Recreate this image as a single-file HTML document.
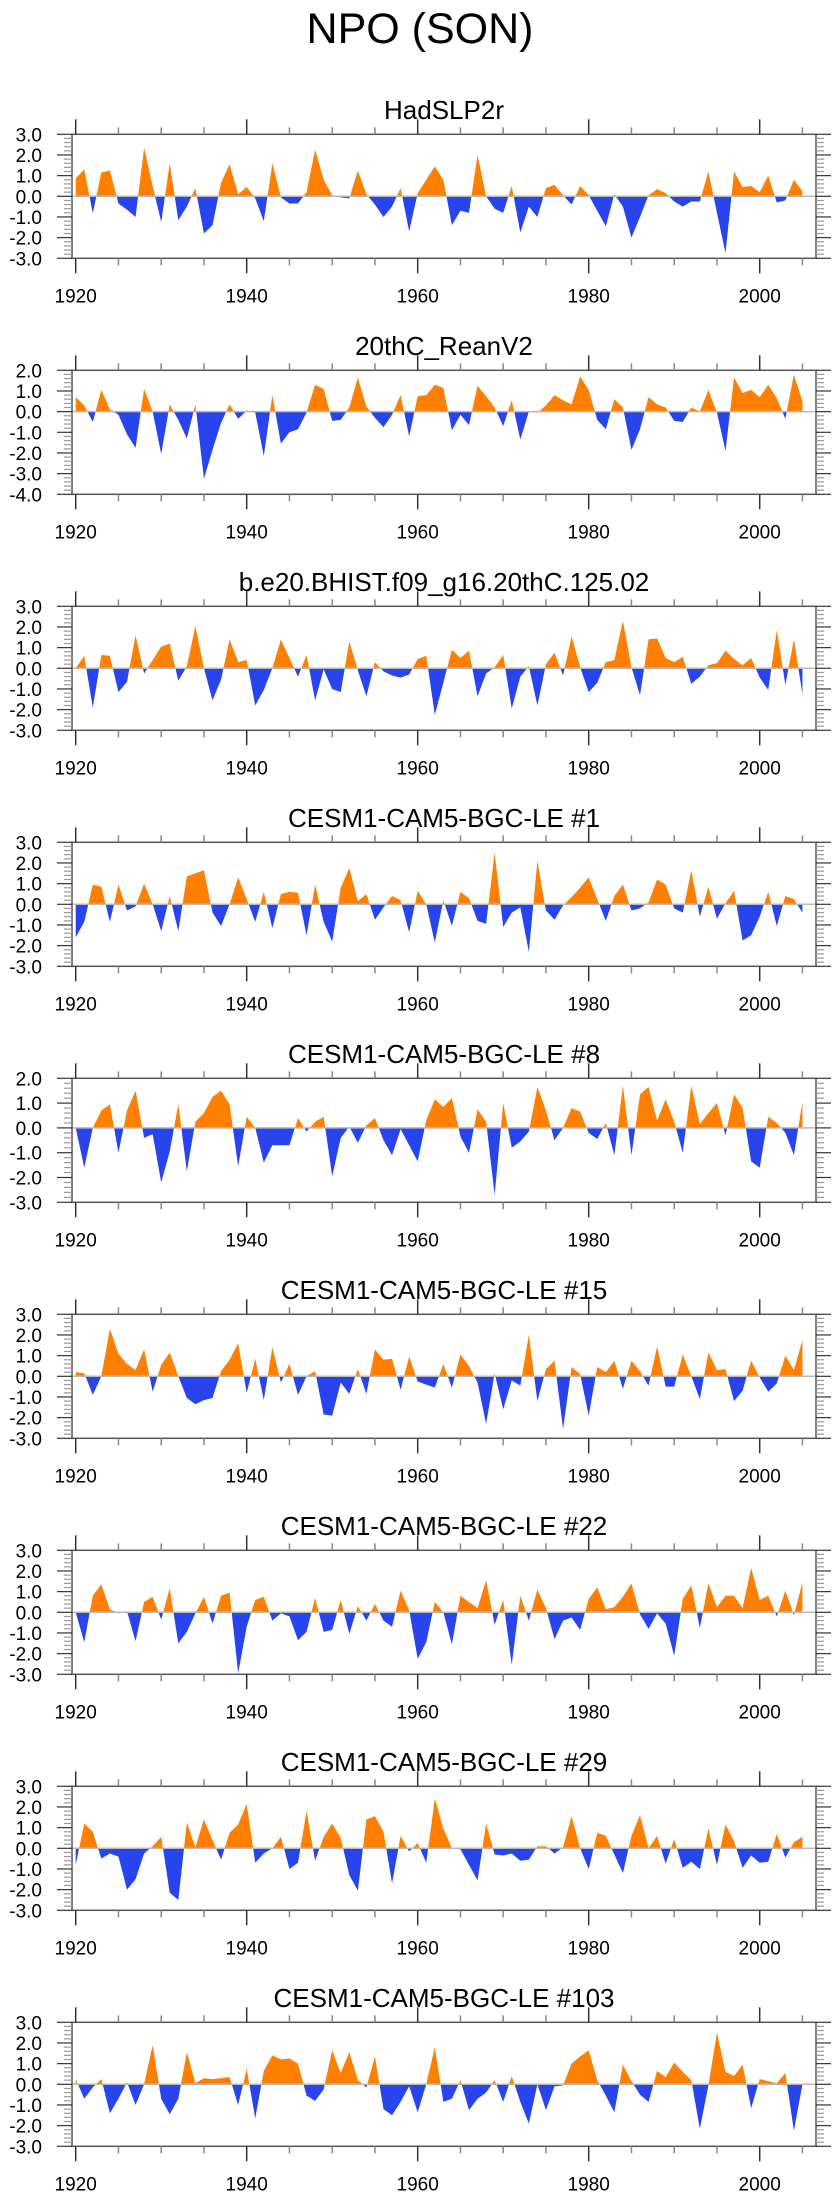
<!DOCTYPE html>
<html><head><meta charset="utf-8"><style>
html,body{margin:0;padding:0;background:#fff;}
svg{display:block;font-family:"Liberation Sans",Arial,sans-serif;}
</style></head><body>
<svg id="chart" width="840" height="2200" viewBox="0 0 840 2200" xmlns="http://www.w3.org/2000/svg">
<text x="420" y="43" text-anchor="middle" font-size="43" fill="#000">NPO (SON)</text>
</svg>
<script>
const years = [];
for (let y = 1920; y <= 2005; y++) years.push(y);
const panelTitles = ["HadSLP2r","20thC_ReanV2","b.e20.BHIST.f09_g16.20thC.125.02","CESM1-CAM5-BGC-LE #1","CESM1-CAM5-BGC-LE #8","CESM1-CAM5-BGC-LE #15","CESM1-CAM5-BGC-LE #22","CESM1-CAM5-BGC-LE #29","CESM1-CAM5-BGC-LE #103"];
const yMaxs = [3,2,3,3,2,3,3,3,3];
const yMins = [-3,-4,-3,-3,-3,-3,-3,-3,-3];
const xTickLabels = [1920,1940,1960,1980,2000];
const hadslp2r = [0.87,1.3,-0.82,1.15,1.25,-0.35,-0.65,-1.0,2.35,0.5,-1.25,1.6,-1.15,-0.5,0.4,-1.8,-1.4,0.65,1.55,0.1,0.45,-0.1,-1.2,1.6,-0.05,-0.35,-0.35,0.2,2.25,0.8,0.05,-0.05,-0.1,1.25,0.1,-0.4,-1.0,-0.5,0.4,-1.7,0.15,0.8,1.45,0.8,-1.4,-0.7,-0.8,2.0,0,-0.6,-0.8,0.5,-1.75,-0.5,-1.0,0.4,0.55,0.05,-0.4,0.5,0.05,-0.7,-1.45,0.1,-0.5,-2.0,-1.0,0.05,0.35,0.15,-0.25,-0.5,-0.25,-0.25,1.2,-0.8,-2.75,1.2,0.45,0.5,0.2,1.0,-0.3,-0.2,0.8,0.25];
const reanV2 = [0.7,0.3,-0.5,1.05,0.1,-0.15,-1.1,-1.75,1.1,0,-2.05,0.35,-0.4,-1.3,0.35,-3.25,-1.85,-0.55,0.35,-0.35,0.05,-0.05,-2.15,0.8,-1.55,-1.0,-0.85,-0.05,1.3,1.1,-0.45,-0.4,0.2,1.65,0.25,-0.3,-0.75,-0.15,0.8,-1.2,0.75,0.8,1.3,1.15,-0.9,-0.15,-0.65,1.25,0.75,0.2,-0.7,0.55,-1.35,0,-0.05,0.3,0.8,0.55,0.35,1.7,1.05,-0.4,-0.85,0.6,0.2,-1.85,-0.85,0.7,0.35,0.2,-0.45,-0.5,0.2,0,1.05,-0.05,-1.9,1.65,0.9,1.05,0.7,1.3,0.65,-0.35,1.8,0.5];
const bhist = [0,0.6,-1.9,0.65,0.6,-1.15,-0.65,1.6,-0.25,0.4,1.05,1.2,-0.6,0.1,2.05,0,-1.55,-0.55,1.4,0.3,0.4,-1.8,-1.05,0,1.4,0.5,-0.4,0.65,-1.55,-0.05,-1.0,-1.15,1.3,-0.1,-1.35,0.3,-0.15,-0.35,-0.45,-0.3,0.45,0.6,-2.25,-0.7,0.9,0.5,0.85,-1.35,-0.25,0.05,0.65,-1.95,-0.4,0.1,-1.8,0.2,0.75,-0.35,1.55,0.05,-1.15,-0.7,0.3,0.4,2.3,0.05,-1.3,1.4,1.45,0.5,0.3,0.55,-0.75,-0.4,0.15,0.25,0.85,0.45,0.15,0.5,-0.45,-1.05,1.85,-0.8,1.4,-1.25];
const le1 = [-1.6,-0.85,0.95,0.85,-0.85,0.95,-0.3,-0.1,1.0,0,-1.3,0.4,-1.3,1.35,1.5,1.65,-0.4,-1.05,0,1.3,0.25,-0.85,0.6,-1.15,0.5,0.6,0.55,-1.5,0.95,-0.85,-1.8,0.8,1.75,0.15,0.5,-0.75,-0.15,0.4,0.2,-1.35,0.65,0,-1.85,0.2,-1.05,0.6,0.3,-0.8,-0.95,2.5,-1.1,-0.4,-0.15,-2.3,2.1,-0.3,-0.75,-0.05,0.35,0.8,1.3,0.25,-0.8,0.4,0.95,-0.3,-0.2,0.1,1.2,0.95,-0.2,-0.4,1.65,-0.6,0.85,-0.7,0.05,0.65,-1.75,-1.5,-0.6,0.6,-1.05,0.4,0.25,-0.4];
const le8 = [0,-1.6,0,0.7,0.95,-1.0,0.7,1.5,-0.4,-0.25,-2.2,-0.95,0.95,-1.75,0.25,0.6,1.25,1.5,0.95,-1.55,0.45,0,-1.4,-0.7,-0.7,-0.7,0.4,-0.15,0.25,0.45,-1.95,-0.4,0.05,-0.6,0.1,0.4,-0.5,-1.1,-0.05,-0.7,-1.35,0.3,1.15,0.85,1.2,-0.35,-1.0,0.75,0.25,-2.7,1.0,-0.8,-0.55,-0.15,1.65,0.7,-0.5,0,0.8,0.65,-0.2,-0.45,0.2,-1.1,1.7,-1.1,1.35,1.65,0.3,1.15,0.25,-1.0,1.7,0.15,0.6,1.0,-0.3,1.35,0.8,-1.35,-1.6,0.45,0.2,-0.2,-1.1,1.05];
const le15 = [0.2,0.15,-0.9,0,2.3,1.1,0.6,0.3,1.3,-0.75,0.55,1.15,0,-1.05,-1.35,-1.15,-1.05,0.25,0.8,1.6,-0.8,0.85,-1.15,1.4,-0.3,0.6,-0.9,0,0.25,-1.85,-1.9,-0.3,-0.85,0.35,-0.85,1.3,0.8,0.85,-0.65,0.95,-0.25,-0.4,-0.55,0.6,-0.55,1.05,0.5,-0.3,-2.3,0.15,-1.6,-0.2,-0.45,2.0,-1.2,0.35,0.75,-2.55,0.45,0.1,-1.9,0.45,0.2,0.75,-0.6,0.75,0.25,-0.45,1.45,-0.5,-0.5,1.05,0,-1.1,1.15,0.3,0.35,-1.2,-0.7,0.75,-0.05,-0.75,-0.35,1.0,0.3,1.75];
const le22 = [0,-1.45,0.8,1.35,0.15,-0.05,0.05,-1.4,0.5,0.75,-0.35,1.15,-1.5,-0.95,-0.05,0.75,-0.55,0.8,0.95,-2.95,-0.7,0.6,0.75,-0.4,-0.05,-0.2,-1.35,-0.95,0.7,-0.95,-0.85,0.6,-1.05,0.3,-0.4,0.4,-0.4,-0.7,1.05,0.1,-2.25,-1.45,0.5,0,-1.55,0.8,0.5,0.2,1.55,-0.6,0.6,-2.55,0.8,-0.4,1.1,0.2,-1.3,-0.4,-0.25,-0.85,0.65,1.2,0.15,0.25,0.75,1.4,-0.1,-0.8,-0.05,-0.55,-2.1,0.65,1.3,-0.75,1.4,0.25,0.8,0.8,0.2,2.15,0.6,0.8,-0.2,1.05,-0.15,1.45];
const le29 = [-0.8,1.2,0.8,-0.5,-0.25,-0.4,-2.0,-1.5,-0.25,0.1,0.55,-2.15,-2.5,1.25,0.05,1.4,0.4,-0.55,0.75,1.15,2.15,-0.7,-0.25,0,0.55,-1.0,-0.7,1.8,-0.6,0.55,1.2,0.5,-1.3,-2.05,1.4,1.55,0.8,-1.7,0.6,-0.15,0.25,-0.7,2.4,0.95,0,-0.05,-0.8,-1.55,1.2,-0.3,-0.35,-0.25,-0.6,-0.55,0.1,0.1,-0.25,0.05,1.55,0,-1.0,0.75,0.6,-0.3,-1.2,0.6,1.6,0,0.6,-0.75,0.45,-0.95,-0.65,-1.0,0.95,-0.8,1.15,0.35,-0.95,-0.35,-0.7,-0.65,0.7,-0.45,0.3,0.55];
const le103 = [0.25,-0.7,-0.15,0.25,-1.4,-0.7,0.1,-1.0,0,1.9,-0.7,-1.45,-0.7,1.55,0.05,0.3,0.25,0.3,0.35,-1.0,0.75,-1.65,0.65,1.4,1.2,1.25,1.0,-0.55,-0.8,-0.25,1.65,0.55,1.55,0.2,-0.15,1.35,-1.2,-1.5,-0.85,-0.1,-1.35,0,1.8,-0.85,-0.7,0.2,-1.25,-0.7,-0.4,0.2,-0.85,0.4,-0.85,-1.9,0,-1.25,-0.1,-0.05,1.0,1.35,1.65,0.2,-0.55,-1.35,0.95,0.15,-0.5,-0.85,0.65,0.35,1.05,0.6,0.2,-2.15,-0.05,2.5,0.6,0.4,0.95,-1.15,0.25,0.15,0.05,0.55,-2.25,0];
const seriesList = [hadslp2r, reanV2, bhist, le1, le8, le15, le22, le29, le103];

const NS = "http://www.w3.org/2000/svg";
const svg = document.getElementById("chart");
const LEFT = 72, RIGHT = 816, BOXH = 124, FIRST_TOP = 134.3, STEP = 236;
function xScale(yr){ return 75.7 + 8.55*(yr-1920); }
function mk(tag, attrs, parent){
  const e = document.createElementNS(NS, tag);
  for (const k in attrs) e.setAttribute(k, attrs[k]);
  (parent||svg).appendChild(e);
  return e;
}
seriesList.forEach((data, p) => {
  const top = FIRST_TOP + STEP*p, bot = top + BOXH;
  const ymin = yMins[p], ymax = yMaxs[p];
  const yScale = v => bot - (v - ymin)/(ymax - ymin)*BOXH;
  const g = mk("g", {});
  
  
  const t = mk("text", {x:(LEFT+RIGHT)/2, y:top-15.5, "text-anchor":"middle", "font-size":26, fill:"#000"}, g);
  t.textContent = panelTitles[p];
  
  
  const y0 = yScale(0);
  // clip paths
  const cpA = mk("clipPath", {id:"ca"+p}, g);
  mk("rect", {x:LEFT, y:top, width:RIGHT-LEFT, height:y0-top}, cpA);
  const cpB = mk("clipPath", {id:"cb"+p}, g);
  mk("rect", {x:LEFT, y:y0, width:RIGHT-LEFT, height:bot-y0}, cpB);
  let d = "M" + xScale(years[0]) + "," + y0;
  data.forEach((v,i) => { d += " L" + xScale(years[i]).toFixed(2) + "," + yScale(v).toFixed(2); });
  d += " L" + xScale(years[data.length-1]) + "," + y0 + " Z";
  const pa = mk("path", {d:d, fill:"#FF8000", "clip-path":"url(#ca"+p+")"}, g);
  
  
  const pb = mk("path", {d:d, fill:"#2844EC", "clip-path":"url(#cb"+p+")"}, g);
  
  
  const zl = mk("line", {x1:LEFT, x2:RIGHT, y1:y0, y2:y0, stroke:"#b8b8b8", "stroke-width":1.5}, g);
  
  
  const box = mk("rect", {x:LEFT, y:top, width:RIGHT-LEFT, height:BOXH, fill:"none", stroke:"#555", "stroke-width":1.5}, g);
  
  
  // x ticks
  for (let yr = 1920; yr <= 2005; yr += 5) {
    const major = yr % 20 === 0, x = xScale(yr), L = major ? 15 : 7;
    mk("line", {x1:x, x2:x, y1:top, y2:top-L, stroke: major?"#333":"#888", "stroke-width":1.5}, g);
    mk("line", {x1:x, x2:x, y1:bot, y2:bot+L, stroke: major?"#333":"#888", "stroke-width":1.5}, g);
  }
  xTickLabels.forEach(yr => {
    const lt = mk("text", {x:xScale(yr), y:bot+44, "text-anchor":"middle", "font-size":19, fill:"#000"}, g);
    lt.textContent = yr;
    
    
  });
  // y ticks
  const nMinor = Math.round((ymax - ymin)/0.2);
  for (let k = 0; k <= nMinor; k++) {
    const v = ymin + k*0.2, y = yScale(v);
    const major = k % 5 === 0, L = major ? 15 : 8;
    mk("line", {x1:LEFT, x2:LEFT-L, y1:y, y2:y, stroke: major?"#333":"#999", "stroke-width":1.2}, g);
    mk("line", {x1:RIGHT, x2:RIGHT+L, y1:y, y2:y, stroke: major?"#333":"#999", "stroke-width":1.2}, g);
  }
  for (let v = ymin; v <= ymax; v++) {
    const lt = mk("text", {x:42, y:yScale(v)+7, "text-anchor":"end", "font-size":19, fill:"#000"}, g);
    lt.textContent = v.toFixed(1);
    
    
  }
});
</script>
</body></html>
